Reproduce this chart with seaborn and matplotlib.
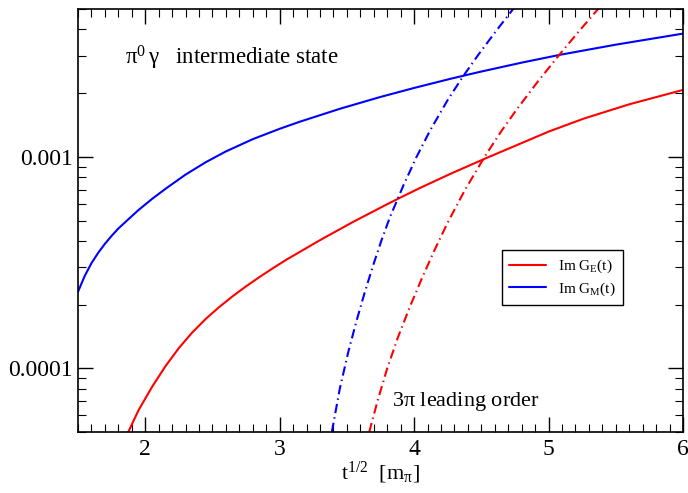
import numpy as np
import pandas as pd
import matplotlib
matplotlib.use("Agg")
import matplotlib.pyplot as plt
import matplotlib.ticker as mticker
import seaborn as sns

# ---- data ----
gm_x = [1.50, 1.55, 1.60, 1.65, 1.70, 1.75, 1.80, 1.87, 1.95, 2.05, 2.15, 2.30, 2.45, 2.60, 2.80,
        3.00, 3.15, 3.45, 3.75, 4.00, 4.27, 4.49, 4.80, 5.09, 5.50, 6.00]
gm_y = [2.301e-4, 2.735e-4, 3.141e-4, 3.516e-4, 3.878e-4, 4.23e-4, 4.581e-4, 5.036e-4, 5.604e-4, 6.318e-4,
        7.055e-4, 8.241e-4, 9.43e-4, 1.0605e-3, 1.2121e-3, 1.3568e-3, 1.4659e-3, 1.6887e-3, 1.9195e-3,
        2.1167e-3, 2.3381e-3, 2.5227e-3, 2.7884e-3, 3.041e-3, 3.391e-3, 3.825e-3]

ge_x = [1.874, 1.95, 2.05, 2.15, 2.25, 2.35, 2.45, 2.55, 2.65, 2.75, 2.85, 2.95, 3.05, 3.30, 3.55, 3.80,
        3.90, 4.05, 4.27, 4.53, 5.00, 5.26, 5.60, 6.00]
ge_y = [5.0e-5, 6.333e-5, 8.157e-5, 1.0224e-4, 1.2462e-4, 1.4779e-4, 1.7126e-4, 1.9484e-4, 2.1911e-4,
        2.4421e-4, 2.7021e-4, 2.9755e-4, 3.2628e-4, 4.0372e-4, 4.9386e-4, 5.9715e-4, 6.4268e-4, 7.1565e-4,
        8.3094e-4, 9.8243e-4, 1.3155e-3, 1.5149e-3, 1.7715e-3, 2.0716e-3]

gm3_x = [3.388, 3.447, 3.511, 3.571, 3.633, 3.695, 3.757, 3.819, 3.92, 4.017, 4.12, 4.25, 4.362, 4.478,
         4.60, 4.74]
gm3_y = [5.0e-5, 8.0e-5, 1.2e-4, 1.671e-4, 2.288e-4, 3.066e-4, 4.022e-4, 5.163e-4, 7.316e-4, 9.961e-4,
         1.3366e-3, 1.8578e-3, 2.392e-3, 3.0405e-3, 3.863e-3, 5.035e-3]

ge3_x = [3.666, 3.73, 3.80, 3.88, 3.97, 4.06, 4.15, 4.25, 4.38, 4.53, 4.65, 4.76, 4.92, 5.09, 5.23, 5.38]
ge3_y = [5.0e-5, 7.08e-5, 9.995e-5, 1.4028e-4, 1.9656e-4, 2.6832e-4, 3.6017e-4, 4.8922e-4, 7.0064e-4,
         1.0139e-3, 1.3262e-3, 1.6646e-3, 2.2689e-3, 3.0914e-3, 3.9497e-3, 5.0992e-3]

legend_labels = ["Im G$_\\mathrm{E}$(t)", "Im G$_\\mathrm{M}$(t)"]
x_ticks = [2, 3, 4, 5, 6]
y_ticks = [1e-4, 1e-3]
y_tick_labels = ["0.0001", "0.001"]

sns.set_theme(style="ticks")
plt.rcParams["font.family"] = ["Liberation Serif", "DejaVu Serif"]
plt.rcParams["mathtext.default"] = "regular"
plt.rcParams["mathtext.fontset"] = "custom"
plt.rcParams["mathtext.rm"] = "Liberation Serif"
plt.rcParams["mathtext.it"] = "Liberation Serif"
plt.rcParams["text.color"] = "black"
plt.rcParams["axes.labelcolor"] = "black"

fig, ax = plt.subplots(figsize=(6.88, 4.93), dpi=100)
fig.subplots_adjust(left=78/688, right=683/688, top=1-9/493, bottom=1-432/493)

lw = 1.5
dd = (0, (4.5, 2.0, 0.7, 2.0))
sns.lineplot(x=ge_x, y=ge_y, ax=ax, color="#ff0000", lw=lw, estimator=None, sort=False)
sns.lineplot(x=gm_x, y=gm_y, ax=ax, color="#0000ff", lw=lw, estimator=None, sort=False)
sns.lineplot(x=gm3_x, y=gm3_y, ax=ax, color="#0000ff", lw=lw, linestyle=dd, estimator=None, sort=False)
sns.lineplot(x=ge3_x, y=ge3_y, ax=ax, color="#ff0000", lw=lw, linestyle=dd, estimator=None, sort=False)

ax.set_yscale("log")
ax.set_xlim(1.5, 6.0)
ax.set_ylim(5e-5, 5e-3)

ax.xaxis.set_major_locator(mticker.FixedLocator(x_ticks))
ax.xaxis.set_minor_locator(mticker.MultipleLocator(0.1))
ax.yaxis.set_major_locator(mticker.FixedLocator(y_ticks))
ax.yaxis.set_major_formatter(mticker.FixedFormatter(y_tick_labels))
ax.yaxis.set_minor_locator(mticker.LogLocator(base=10, subs=np.arange(2, 10)))
ax.yaxis.set_minor_formatter(mticker.NullFormatter())

ax.tick_params(which="both", direction="in", top=True, right=True, colors="black", labelsize=17)
ax.tick_params(which="major", length=11, width=1.0)
ax.tick_params(axis="x", which="major", pad=5)
ax.tick_params(axis="y", which="major", pad=3.5)
ax.tick_params(which="minor", length=6, width=0.8)
for s in ax.spines.values():
    s.set_linewidth(1.2)
    s.set_color("black")
    s.set_visible(True)

ax.set_xlabel("t$^{1/2}$  [m$_{\\pi}$]", fontsize=16, labelpad=0)
ax.set_ylabel("")

ax.text(1.85, 2.74e-3, "$\\pi^{0}\\,\\gamma$   intermediate state", fontsize=16.5, va="baseline", ha="left")
ax.text(3.835, 6.64e-5, "3$\\pi$ leading order", fontsize=16, va="baseline", ha="left")

leg = ax.legend(handles=[ax.lines[0], ax.lines[1]], labels=legend_labels,
                loc="upper left", bbox_to_anchor=(0.700, 0.430), borderaxespad=0,
                fontsize=11, frameon=True, fancybox=False, framealpha=1, edgecolor="black",
                handlelength=2.4, handletextpad=0.8, labelspacing=0.35, borderpad=0.5)
leg.get_frame().set_linewidth(1.0)

fig.savefig("out.png", dpi=100)
